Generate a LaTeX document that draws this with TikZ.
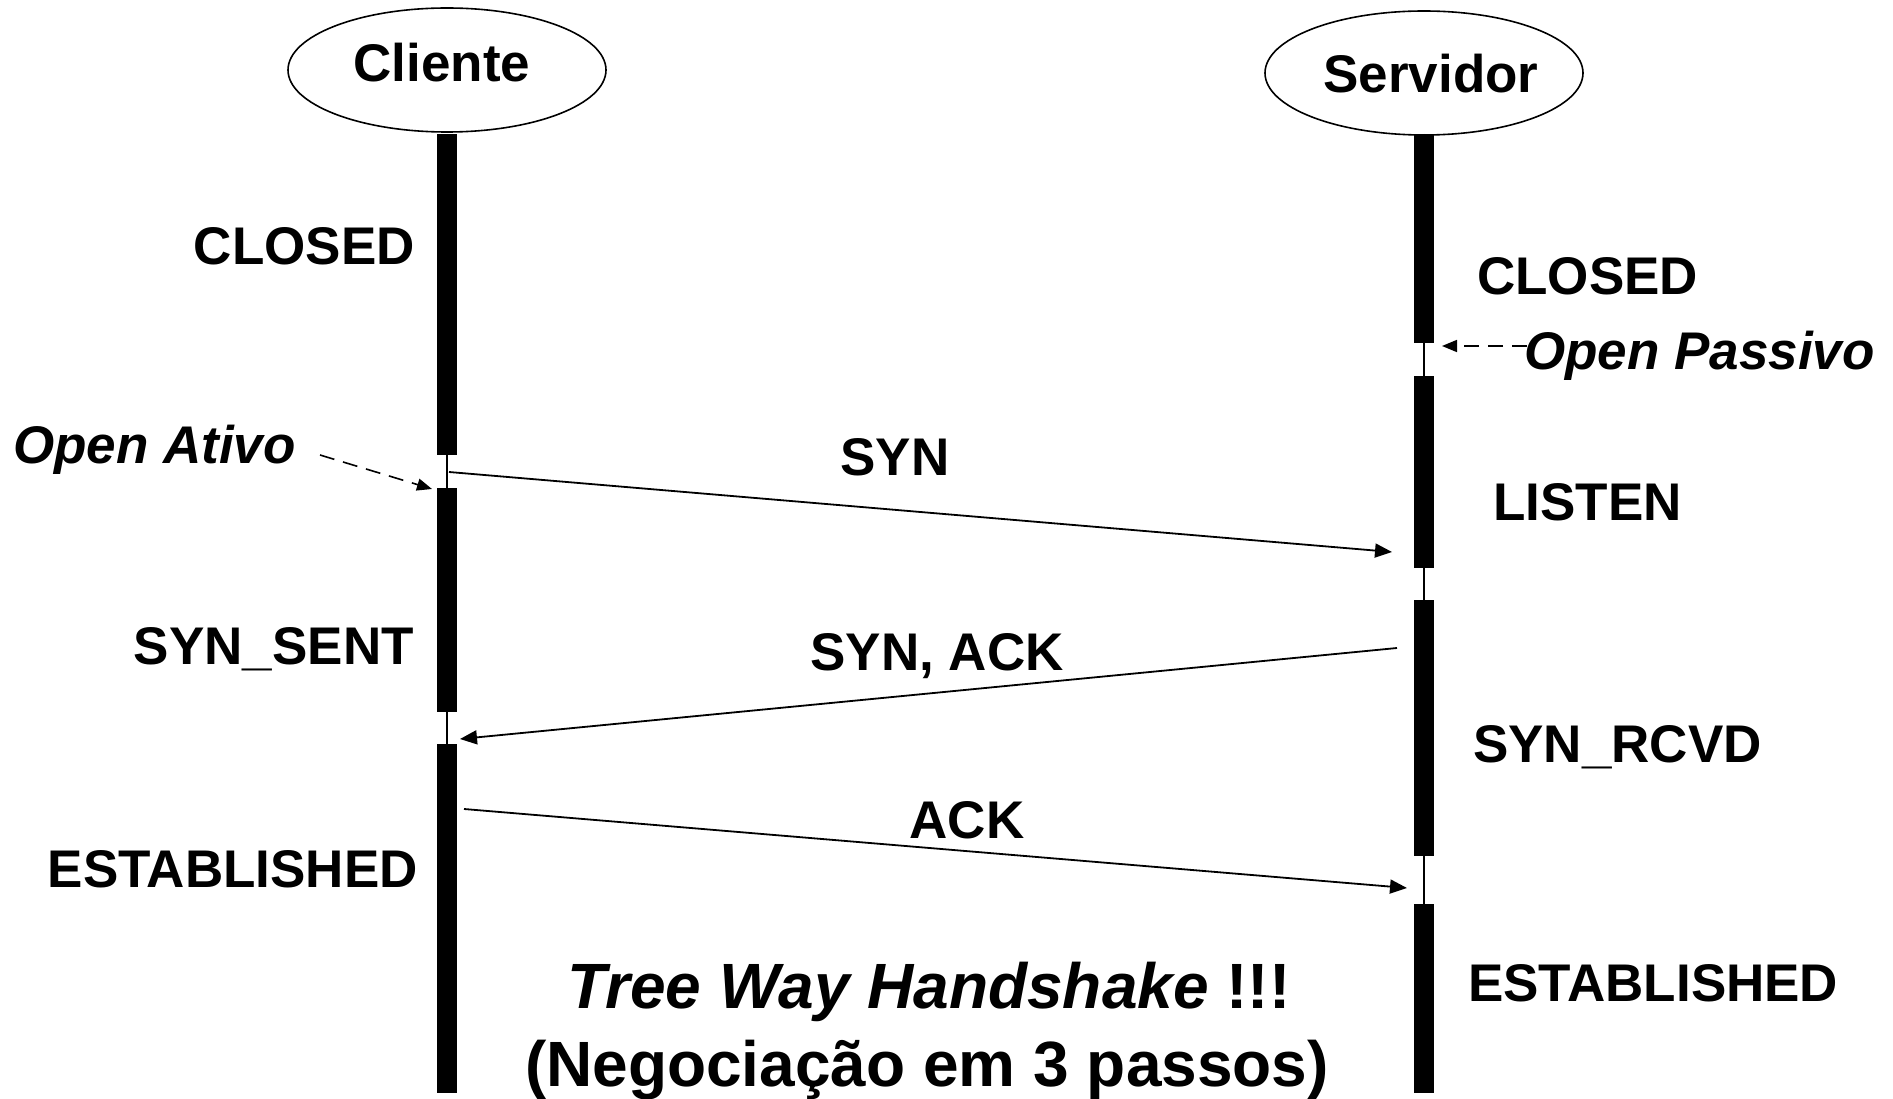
\documentclass[tikz,border=0pt]{standalone}
\usepackage{fontspec}
\setmainfont{Liberation Sans}
\usetikzlibrary{arrows.meta,shapes.geometric}
\begin{document}
\begin{tikzpicture}[x=1pt,y=-1pt,
  lbl/.style={font=\fontsize{53}{60}\selectfont\bfseries, inner sep=0pt},
  ilbl/.style={font=\fontsize{53}{60}\selectfont\bfseries\itshape, inner sep=0pt},
  big/.style={font=\fontsize{64}{76}\selectfont\bfseries, inner sep=0pt},
  actor/.style={ellipse, draw, line width=1.6pt, minimum width=318pt, minimum height=124pt, inner sep=0pt},
  bar/.style={fill=black, draw=none},
  life/.style={line width=1.6pt},
  msg/.style={line width=1.8pt, -{Triangle[length=17pt,width=14pt]}},
  note/.style={line width=1.6pt, dash pattern=on 15pt off 9pt, -{Triangle[length=15pt,width=12pt]}}
]
\useasboundingbox (0,0) rectangle (1893,1099);

% --- participants ---
\node[actor] (client) at (447,70) {};
\node[lbl, anchor=base] (clientname) at (442,82) {Cliente};
\node[actor] (server) at (1424,73) {};
\node[lbl, anchor=base] (servername) at (1431,93) {Servidor};

% --- lifelines (thin) ---
\coordinate (cEnd) at (447,1093);
\coordinate (sEnd) at (1424,1093);
\draw[life] (447,134) -- (cEnd);
\draw[life] (1424,134) -- (sEnd);

% --- client state bars ---
\path[bar] (437,134) rectangle (457,455);
\path[bar] (437,488) rectangle (457,712);
\path[bar] (437,744) rectangle (457,1093);

% --- server state bars ---
\path[bar] (1414,134) rectangle (1434,343);
\path[bar] (1414,376) rectangle (1434,568);
\path[bar] (1414,600) rectangle (1434,856);
\path[bar] (1414,904) rectangle (1434,1093);

% --- client states ---
\node[lbl, anchor=base east] (cClosed) at (415,265) {CLOSED};
\node[lbl, anchor=base east] (cSynSent) at (414,664) {SYN\_SENT};
\node[lbl, anchor=base east] (cEst) at (418,887) {ESTABLISHED};

% --- server states ---
\node[lbl, anchor=base west] (sClosed) at (1477,295) {CLOSED};
\node[lbl, anchor=base west] (sListen) at (1493,520) {LISTEN};
\node[lbl, anchor=base west] (sSynRcvd) at (1473,762) {SYN\_RCVD};
\node[lbl, anchor=base west] (sEst) at (1468,1001) {ESTABLISHED};

% --- open events ---
\node[ilbl, anchor=base west] (openAtivo) at (13,463) {Open Ativo};
\coordinate (atA) at (320,455);
\coordinate (atB) at (432,489);
\draw[note] (atA) -- (atB);

\node[ilbl, anchor=base west] (openPassivo) at (1524,370) {Open Passivo};
\coordinate (paA) at (1527,346);
\coordinate (paB) at (1442,346);
\draw[note] (paA) -- (paB);

% --- segments exchanged ---
\coordinate (syn1) at (449,472);
\coordinate (syn2) at (1392,552);
\draw[msg] (syn1) -- (syn2);
\node[lbl, anchor=base] (synLbl) at (895,475) {SYN};

\coordinate (sa1) at (1397,648);
\coordinate (sa2) at (460,739);
\draw[msg] (sa1) -- (sa2);
\node[lbl, anchor=base] (saLbl) at (937,670) {SYN, ACK};

\coordinate (ack1) at (464,809);
\coordinate (ack2) at (1407,888);
\draw[msg] (ack1) -- (ack2);
\node[lbl, anchor=base] (ackLbl) at (967,838) {ACK};

% --- caption ---
\node[big, anchor=base] (cap1) at (929,1008) {\itshape Tree Way Handshake\/ \upshape !!!};
\node[big, anchor=base] (cap2) at (927,1086) {(Negociação em 3 passos)};
\end{tikzpicture}
\end{document}
